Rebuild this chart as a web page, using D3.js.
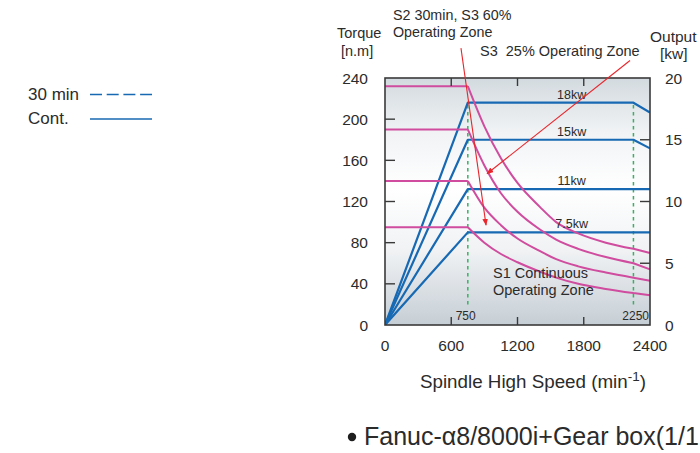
<!DOCTYPE html>
<html>
<head>
<meta charset="utf-8">
<script src="https://cdn.jsdelivr.net/npm/d3@7"></script>
<style>
  html, body { margin: 0; padding: 0; background: #ffffff; }
  svg { display: block; }
  text { font-family: "Liberation Sans", Arial, sans-serif; fill: #2b2b2b; }
</style>
</head>
<body>
<svg id="chart" width="700" height="453"></svg>
<script>
// ---------------- data ----------------
const speedTicks = [0, 600, 1200, 1800, 2400];
const torqueTicks = [0, 40, 80, 120, 160, 200, 240];
const outputTicks = [0, 5, 10, 15, 20];

// output power (kW) vs spindle speed
const powerSpeed = [0, 750, 2250, 2400];
const power18kw = [0, 18, 18, 17.2];
const power15kw = [0, 15, 15, 14.3];
const power11kw = [0, 11, 11, 11];
const power75kw = [0, 7.5, 7.5, 7.5];
const powerLabels = ["18kw", "15kw", "11kw", "7.5kw"];

// torque (N.m) vs spindle speed
const torqueSpeed = [0, 750, 900, 1050, 1200, 1400, 1550, 1750, 2000, 2250, 2400];
const torque18kw = [232, 232, 193, 162, 138, 115, 100, 89, 80, 74, 70];
const torque15kw = [190, 190, 155, 128, 110, 93, 83, 74, 66, 60, 54];
const torque11kw = [140, 140, 114, 97, 84, 72, 64, 57, 51, 46, 43];
const torque75kw = [95, 95, 80, 69, 61, 52, 46, 40, 35, 31, 29];

const markerSpeeds = [750, 2250];
const markerLabels = ["750", "2250"];

// annotation arrows: [speed, torque] start -> end
const arrowS2 = [[688, 269], [915, 97]];
const arrowS3 = [[2219, 257], [924, 147]];

const legendLabels = ["30 min", "Cont."];

// ---------------- layout ----------------
const svg = d3.select("#chart");
const L = 385, R = 650, T = 78, B = 325;

const x = d3.scaleLinear().domain([0, 2400]).range([L, R]);
const y = d3.scaleLinear().domain([0, 240]).range([B, T]);
const yR = d3.scaleLinear().domain([0, 20]).range([B, T]);

const BLUE = "#1769b3", PINK = "#cf4c9e", RED = "#e8262c", GREEN = "#3bb063";

// background gradient
const defs = svg.append("defs");
const grad = defs.append("linearGradient").attr("id", "bg")
  .attr("x1", 0).attr("y1", 0).attr("x2", 0).attr("y2", 1);
[["0%", "#d3dadf"], ["22%", "#f1f3f5"], ["45%", "#ffffff"], ["70%", "#f0f2f4"], ["100%", "#c6ced5"]]
  .forEach(([o, c]) => grad.append("stop").attr("offset", o).attr("stop-color", c));
defs.append("clipPath").attr("id", "plotclip").append("rect")
  .attr("x", L).attr("y", T - 20).attr("width", R - L).attr("height", B - T + 20);
const mk = defs.append("marker").attr("id", "arrow").attr("viewBox", "0 0 10 10")
  .attr("refX", 9).attr("refY", 5).attr("markerWidth", 7).attr("markerHeight", 7)
  .attr("orient", "auto-start-reverse").attr("markerUnits", "userSpaceOnUse");
mk.append("path").attr("d", "M0,1 L10,5 L0,9 Z").attr("fill", RED);

svg.append("rect").attr("x", L).attr("y", T).attr("width", R - L).attr("height", B - T)
  .attr("fill", "url(#bg)");

// green dashed markers
svg.append("g").selectAll("line").data(markerSpeeds).join("line")
  .attr("x1", d => x(d)).attr("x2", d => x(d))
  .attr("y1", y(20)).attr("y2", y(215))
  .attr("stroke", GREEN).attr("stroke-width", 1.5).attr("stroke-dasharray", "3.5,3.5");

// power lines (blue)
const powerSeries = [power18kw, power15kw, power11kw, power75kw];
const pLine = d3.line().x(d => x(d[0])).y(d => yR(d[1]));
svg.append("g").attr("clip-path", "url(#plotclip)").selectAll("path").data(powerSeries).join("path")
  .attr("d", s => pLine(powerSpeed.map((n, i) => [n, s[i]])))
  .attr("fill", "none").attr("stroke", BLUE).attr("stroke-width", 2.2).attr("stroke-linejoin", "round");

// torque curves (pink)
const torqueSeries = [torque18kw, torque15kw, torque11kw, torque75kw];
const lin = d3.line().x(d => x(d[0])).y(d => y(d[1]));
const smooth = d3.line().x(d => x(d[0])).y(d => y(d[1])).curve(d3.curveMonotoneX);
function torquePath(s) {
  const pts = torqueSpeed.map((n, i) => [n, s[i]]);
  const flat = pts.filter(p => p[0] <= 750);
  const mid = pts.filter(p => p[0] >= 750 && p[0] <= 2250);
  const tail = pts.filter(p => p[0] >= 2250);
  return lin(flat) + smooth(mid) + lin(tail);
}
svg.append("g").selectAll("path").data(torqueSeries).join("path")
  .attr("d", torquePath)
  .attr("fill", "none").attr("stroke", PINK).attr("stroke-width", 2).attr("stroke-linejoin", "round");

// power labels
svg.append("g").selectAll("text").data(powerLabels).join("text")
  .attr("x", x(1690)).attr("y", (d, i) => yR(powerSeries[i][1]) - 4)
  .attr("text-anchor", "middle").attr("font-size", 12.5).text(d => d);

// frame
svg.append("rect").attr("x", L).attr("y", T).attr("width", R - L).attr("height", B - T)
  .attr("fill", "none").attr("stroke", "#3a3a3a").attr("stroke-width", 1.6);

// ticks (inward)
const tickG = svg.append("g").attr("stroke", "#3a3a3a").attr("stroke-width", 1.4);
tickG.selectAll(".lt").data(torqueTicks.slice(1, -1)).join("line")
  .attr("x1", L).attr("x2", L + 10).attr("y1", d => y(d)).attr("y2", d => y(d));
tickG.selectAll(".rt").data(outputTicks.slice(1, -1)).join("line")
  .attr("x1", R).attr("x2", R - 10).attr("y1", d => yR(d)).attr("y2", d => yR(d));
tickG.selectAll(".bt").data(speedTicks.slice(1, -1)).join("line")
  .attr("x1", d => x(d)).attr("x2", d => x(d)).attr("y1", B).attr("y2", B - 8);
tickG.selectAll(".tt").data(speedTicks.slice(1, -1)).join("line")
  .attr("x1", d => x(d)).attr("x2", d => x(d)).attr("y1", T).attr("y2", T + 8);

// tick labels
svg.append("g").selectAll("text").data(torqueTicks).join("text")
  .attr("x", L - 17).attr("y", d => y(d)).attr("dy", "0.36em")
  .attr("text-anchor", "end").attr("font-size", 15.5).text(d => d);
svg.append("g").selectAll("text").data(outputTicks).join("text")
  .attr("x", R + 15).attr("y", d => yR(d)).attr("dy", "0.36em")
  .attr("text-anchor", "start").attr("font-size", 15.5).text(d => d);
svg.append("g").selectAll("text").data(speedTicks).join("text")
  .attr("x", d => x(d)).attr("y", 351)
  .attr("text-anchor", "middle").attr("font-size", 15.5).text(d => d);

// marker labels
svg.append("text").attr("x", x(640)).attr("y", 320).attr("font-size", 12).text(markerLabels[0]);
svg.append("text").attr("x", x(2400) - 1).attr("y", 320).attr("text-anchor", "end")
  .attr("font-size", 12).text(markerLabels[1]);

// axis titles
svg.append("text").attr("x", 337).attr("y", 38).attr("font-size", 14.5).text("Torque");
svg.append("text").attr("x", 341).attr("y", 56).attr("font-size", 14.5).text("[n.m]");
svg.append("text").attr("x", 650).attr("y", 42).attr("font-size", 15.5).text("Output");
svg.append("text").attr("x", 660).attr("y", 59).attr("font-size", 15.5).text("[kw]");
const xt = svg.append("text").attr("x", 533).attr("y", 388).attr("text-anchor", "middle")
  .attr("font-size", 18.8);
xt.append("tspan").text("Spindle High Speed (min");
xt.append("tspan").attr("dy", -7).attr("font-size", 13.5).text("-1");
xt.append("tspan").attr("dy", 7).text(")");

// zone annotations
svg.append("text").attr("x", 393).attr("y", 20).attr("font-size", 14.3).text("S2 30min, S3 60%");
svg.append("text").attr("x", 393).attr("y", 37).attr("font-size", 14.3).text("Operating Zone");
svg.append("text").attr("x", 480).attr("y", 56).attr("font-size", 14.5)
  .style("white-space", "pre").text("S3  25% Operating Zone");
svg.append("text").attr("x", 493).attr("y", 278).attr("font-size", 14.5).text("S1 Continuous");
svg.append("text").attr("x", 493).attr("y", 295).attr("font-size", 14.5).text("Operating Zone");

// red arrows
svg.append("g").selectAll("line").data([arrowS2, arrowS3]).join("line")
  .attr("x1", d => x(d[0][0])).attr("y1", d => y(d[0][1]))
  .attr("x2", d => x(d[1][0])).attr("y2", d => y(d[1][1]))
  .attr("stroke", RED).attr("stroke-width", 1.1).attr("marker-end", "url(#arrow)");

// legend
const lg = svg.append("g");
lg.selectAll("text").data(legendLabels).join("text")
  .attr("x", 28).attr("y", (d, i) => 100 + i * 24)
  .attr("font-family", "'Open Sans', sans-serif").attr("font-size", 17).text(d => d);
lg.selectAll("line").data(legendLabels).join("line")
  .attr("x1", 90).attr("x2", 152).attr("y1", (d, i) => 94.5 + i * 24.5).attr("y2", (d, i) => 94.5 + i * 24.5)
  .attr("stroke", BLUE).attr("stroke-width", 1.6)
  .attr("stroke-dasharray", (d, i) => i === 0 ? "12,4.7" : null);

// footer
svg.append("circle").attr("cx", 352).attr("cy", 437).attr("r", 4.2).attr("fill", "#1e1e1e");
svg.append("text").attr("x", 364).attr("y", 445).attr("font-size", 25).attr("fill", "#1e1e1e")
  .text("Fanuc-\u03b18/8000i+Gear box(1/1");
</script>
</body>
</html>
